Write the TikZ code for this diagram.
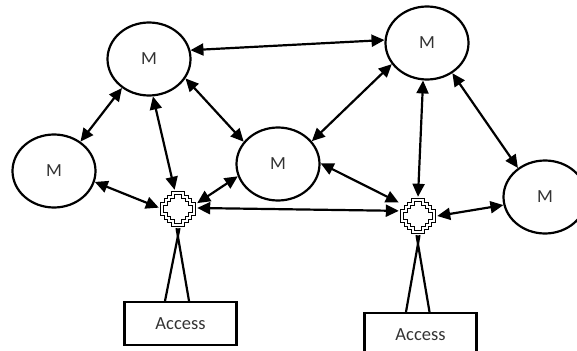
\documentclass[tikz,border=0pt]{standalone}
\usepackage{fontspec}
\setmainfont{Carlito}
\usepackage{tikz}
\usetikzlibrary{shapes.geometric}
\usetikzlibrary{arrows.meta}

\begin{document}
\begin{tikzpicture}[
    x=1pt, y=-1pt,
    every node/.style={inner sep=0pt, font=\fontsize{18.5}{22}\selectfont, text=black!80},
    sirkel/.style={ellipse, draw=black, line width=2.2pt, minimum width=83pt, minimum height=73pt},
    boks/.style={rectangle, draw=black, line width=2.2pt, minimum width=112pt, minimum height=43pt},
    kryss/.style={rectangle, minimum size=38pt, path picture={
        \draw[line width=1.8pt, double=white, double distance=1.2pt,
              shift={(path picture bounding box.center)}]
            (-5pt,16pt) -- (5pt,16pt) -- (5pt,12pt) -- (9pt,12pt) -- (9pt,9pt)
            -- (12pt,9pt) -- (12pt,5pt) -- (16pt,5pt) -- (16pt,-5pt) -- (12pt,-5pt)
            -- (12pt,-9pt) -- (9pt,-9pt) -- (9pt,-12pt) -- (5pt,-12pt) -- (5pt,-16pt)
            -- (-5pt,-16pt) -- (-5pt,-12pt) -- (-9pt,-12pt) -- (-9pt,-9pt) -- (-12pt,-9pt)
            -- (-12pt,-5pt) -- (-16pt,-5pt) -- (-16pt,5pt) -- (-12pt,5pt) -- (-12pt,9pt)
            -- (-9pt,9pt) -- (-9pt,12pt) -- (-5pt,12pt) -- cycle;
    }},
    pil/.style={line width=2.2pt, {Triangle[length=13pt,width=12pt]}-{Triangle[length=13pt,width=12pt]}},
    stav/.style={line width=2.2pt}
]
\useasboundingbox (0,0) rectangle (577,350);

% maskiner
\node[sirkel] (m1) at (149,59) {M};
\node[sirkel] (m2) at (54,171) {M};
\node[sirkel] (m3) at (278,164) {M};
\node[sirkel] (m4) at (427,43) {M};
\node[sirkel] (m5) at (545,197) {M};

% kryss og tilgang
\node[kryss] (k1) at (178,209) {};
\node[kryss] (k2) at (418,216) {};
\node[boks] (a1) at (180.5,323.5) {Access};
\node[boks] (a2) at (420.5,334.5) {Access};

% piler
\draw[pil] (m1.12) -- (m4.176);
\draw[pil] (m1.227) -- (m2.48);
\draw[pil] (m1.276) -- (k1.100);
\draw[pil] (m1.332) -- (m3.147);
\draw[pil] (m2.345) -- (k1.176);
\draw[pil] (m3.197) -- (k1.17);
\draw[pil] (k1.3) -- (k2.165);
\draw[pil] (m4.211) -- (m3.34);
\draw[pil] (m4.264) -- (k2.90);
\draw[pil] (m4.310) -- (m5.133);
\draw[pil] (m3.1) -- (k2.145);
\draw[pil] (k2.0) -- (m5.191);

% staver
\draw[stav] ([xshift=-15.5pt]a1.north) -- ([xshift=1.5pt]k1.south);
\draw[stav] ([xshift=8.5pt]a1.north) -- ([xshift=-1.5pt]k1.south);
\draw[stav] ([xshift=-14.5pt]a2.north) -- ([xshift=1.5pt]k2.south);
\draw[stav] ([xshift=9pt]a2.north) -- ([xshift=-1.5pt]k2.south);
\end{tikzpicture}
\end{document}
